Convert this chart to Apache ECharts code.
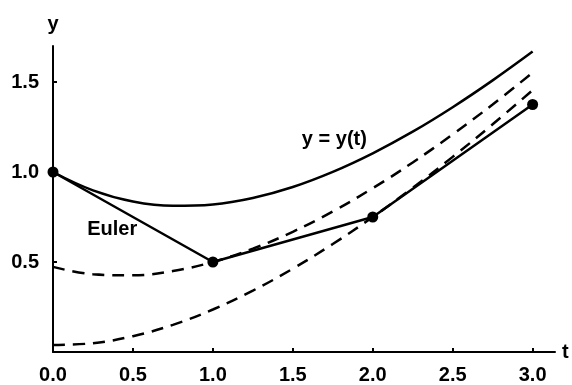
<!DOCTYPE html>
<html>
<head>
<meta charset="utf-8">
<script src="https://cdn.jsdelivr.net/npm/echarts@6/dist/echarts.min.js"></script>
<style>html,body{margin:0;padding:0;background:#fff;}#c{width:572px;height:385px;}</style>
</head>
<body>
<div id="c"></div>
<script>
// t grid at which curves were read
var tValues = [0, 0.25, 0.5, 0.75, 1.0, 1.25, 1.5, 1.75, 2.0, 2.25, 2.5, 2.75, 3.0];
// exact solution y = y(t)
var exactY = [1.000, 0.898, 0.836, 0.812, 0.820, 0.856, 0.917, 1.001, 1.104, 1.224, 1.360, 1.509, 1.669];
// solution curve through the first Euler step (dashed)
var dashedA = [0.473, 0.432, 0.426, 0.450, 0.500, 0.574, 0.668, 0.781, 0.910, 1.053, 1.209, 1.375, 1.552];
// solution curve through the second Euler step (dashed)
var dashedB = [0.039, 0.049, 0.088, 0.151, 0.236, 0.341, 0.463, 0.600, 0.750, 0.912, 1.084, 1.265, 1.455];
// Euler approximation points
var eulerT = [0, 1, 2, 3];
var eulerY = [1.0, 0.5, 0.75, 1.375];
// axis ticks
var xTicks = [0, 0.5, 1.0, 1.5, 2.0, 2.5, 3.0];
var yTicks = [0.5, 1.0, 1.5];
// annotations [text, t, y]
var notes = [["y = y(t)", 1.76, 1.18], ["Euler", 0.37, 0.68]];

function pairs(xs, ys) { return xs.map(function (x, i) { return [x, ys[i]]; }); }

var font = 'Liberation Sans, Arial, Helvetica, sans-serif';
var txt = { color: '#000', fontSize: 20, fontWeight: 'bold', fontFamily: font };
var chart = echarts.init(document.getElementById('c'));
var lineW = 2.5;
chart.setOption({
  animation: false,
  backgroundColor: '#fff',
  grid: { left: 53, right: 17, top: 46, bottom: 30, containLabel: false },
  xAxis: {
    type: 'value', min: 0, max: 3.14,
    name: 't', nameLocation: 'end', nameGap: 7,
    nameTextStyle: Object.assign({ verticalAlign: 'middle' }, txt),
    axisLine: { show: true, lineStyle: { color: '#000', width: 2 } },
    axisTick: { show: true, inside: true, length: 4, customValues: xTicks, lineStyle: { color: '#000', width: 2 } },
    axisLabel: Object.assign({ customValues: xTicks, margin: 13,
      formatter: function (v) { return v.toFixed(1); } }, txt),
    splitLine: { show: false }
  },
  yAxis: {
    type: 'value', min: 0, max: 1.7,
    name: 'y', nameLocation: 'end', nameGap: 12,
    nameTextStyle: Object.assign({}, txt),
    axisLine: { show: true, lineStyle: { color: '#000', width: 2 } },
    axisTick: { show: true, inside: true, length: 4, customValues: yTicks, lineStyle: { color: '#000', width: 2 } },
    axisLabel: Object.assign({ customValues: yTicks, margin: 14,
      formatter: function (v) { return v.toFixed(1); } }, txt),
    splitLine: { show: false }
  },
  series: [
    { type: 'line', data: pairs(tValues, exactY), smooth: 0.4, showSymbol: false,
      lineStyle: { color: '#000', width: lineW } },
    { type: 'line', data: pairs(tValues, dashedA), smooth: 0.4, showSymbol: false,
      lineStyle: { color: '#000', width: lineW, type: [12, 8] } },
    { type: 'line', data: pairs(tValues, dashedB), smooth: 0.4, showSymbol: false,
      lineStyle: { color: '#000', width: lineW, type: [12, 8] } },
    { type: 'line', data: pairs(eulerT, eulerY), symbol: 'circle', symbolSize: 11, showSymbol: true,
      itemStyle: { color: '#000' }, lineStyle: { color: '#000', width: lineW } },
    { type: 'scatter', symbolSize: 0, silent: true, itemStyle: { opacity: 1, color: '#000' },
      data: notes.map(function (n) { return { value: [n[1], n[2]], name: n[0] }; }),
      label: Object.assign({ show: true, position: 'inside', formatter: '{b}' }, txt) }
  ]
});
</script>
</body>
</html>
